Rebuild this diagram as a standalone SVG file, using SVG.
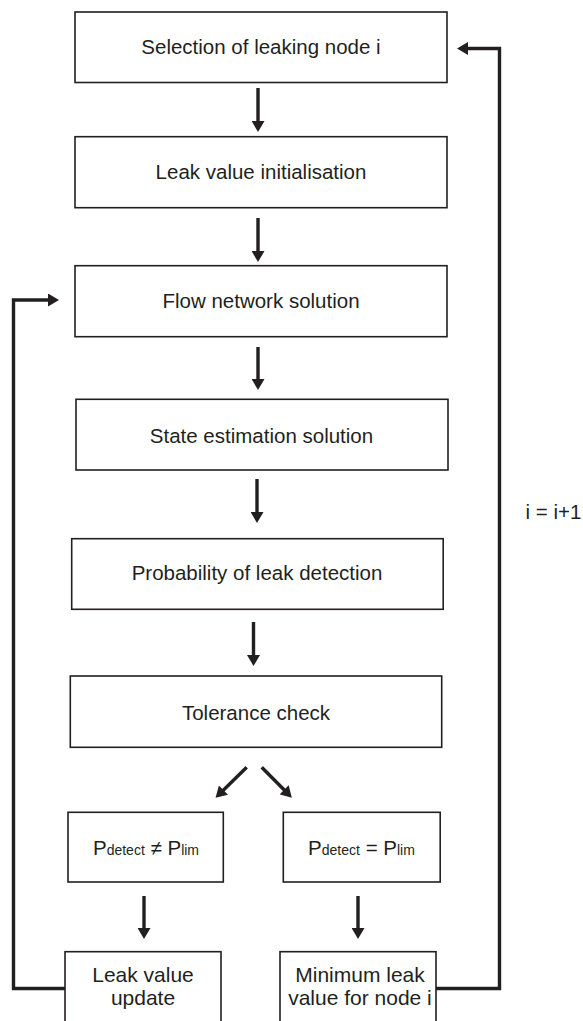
<svg xmlns="http://www.w3.org/2000/svg" width="583" height="1021" viewBox="0 0 583 1021">
<style>
.box{fill:#fff;stroke:#231f20;stroke-width:1.6}
.t{font-family:"Liberation Sans",Arial,sans-serif;font-size:20.5px;fill:#231f20;text-anchor:middle}
.t2{font-family:"Liberation Sans",Arial,sans-serif;font-size:21px;fill:#231f20;text-anchor:middle}
.sub{font-size:14px}
.c{fill:none;stroke:#231f20;stroke-width:3.4;marker-end:url(#ah)}
</style>
<defs>
<marker id="ah" markerUnits="userSpaceOnUse" markerWidth="12" markerHeight="13" viewBox="0 0 11 13" refX="2" refY="6.5" orient="auto">
<path d="M0,0 L11,6.5 L0,13 z" fill="#231f20"/>
</marker>
</defs>
<g id="connectors">
<path class="c" d="M258,88 V123"/>
<path class="c" d="M258,218 V253"/>
<path class="c" d="M258,347 V381"/>
<path class="c" d="M257,479 V514"/>
<path class="c" d="M253.5,622 V657"/>
<path class="c" d="M246.7,767.3 L222,791.5"/>
<path class="c" d="M261.7,767.3 L285.5,791.3"/>
<path class="c" d="M144,896 V930"/>
<path class="c" d="M358,896 V930"/>
<path class="c" d="M65,988.5 H13.5 V300 H50"/>
<path class="c" d="M436,988.5 H499.5 V48.5 H466"/>
</g>
<g id="n1"><rect class="box" x="75" y="12" width="372" height="70.5"/><text class="t" x="261" y="54">Selection of leaking node i</text></g>
<g id="n2"><rect class="box" x="75" y="136.7" width="372" height="71"/><text class="t" x="261" y="179">Leak value initialisation</text></g>
<g id="n3"><rect class="box" x="75" y="265.7" width="372" height="71"/><text class="t" x="261" y="307.5">Flow network solution</text></g>
<g id="n4"><rect class="box" x="76" y="399.3" width="372" height="70.7"/><text class="t" x="261.5" y="442.5">State estimation solution</text></g>
<g id="n5"><rect class="box" x="71.7" y="538.7" width="371.5" height="70.6"/><text class="t" x="257" y="580">Probability of leak detection</text></g>
<g id="n6"><rect class="box" x="70.3" y="676" width="371.4" height="71.3"/><text class="t" x="256" y="720">Tolerance check</text></g>
<g id="n7"><rect class="box" x="68" y="812.3" width="155.3" height="69.7"/><text class="t" x="146" y="855">P<tspan class="sub">detect</tspan> ≠ P<tspan class="sub">lim</tspan></text></g>
<g id="n8"><rect class="box" x="283.3" y="812.3" width="156.9" height="69.7"/><text class="t" x="361.5" y="855">P<tspan class="sub">detect</tspan> = P<tspan class="sub">lim</tspan></text></g>
<g id="n9"><rect class="box" x="65" y="951.7" width="156" height="80"/><text class="t2" x="143" y="981.7">Leak value</text><text class="t2" x="143" y="1005">update</text></g>
<g id="n10"><rect class="box" x="280" y="951.7" width="156" height="80"/><text class="t2" x="360" y="981.7">Minimum leak</text><text class="t2" x="360" y="1005">value for node i</text></g>
<g id="loop-label"><text class="t" x="553.5" y="519.3">i = i+1</text></g>
</svg>
